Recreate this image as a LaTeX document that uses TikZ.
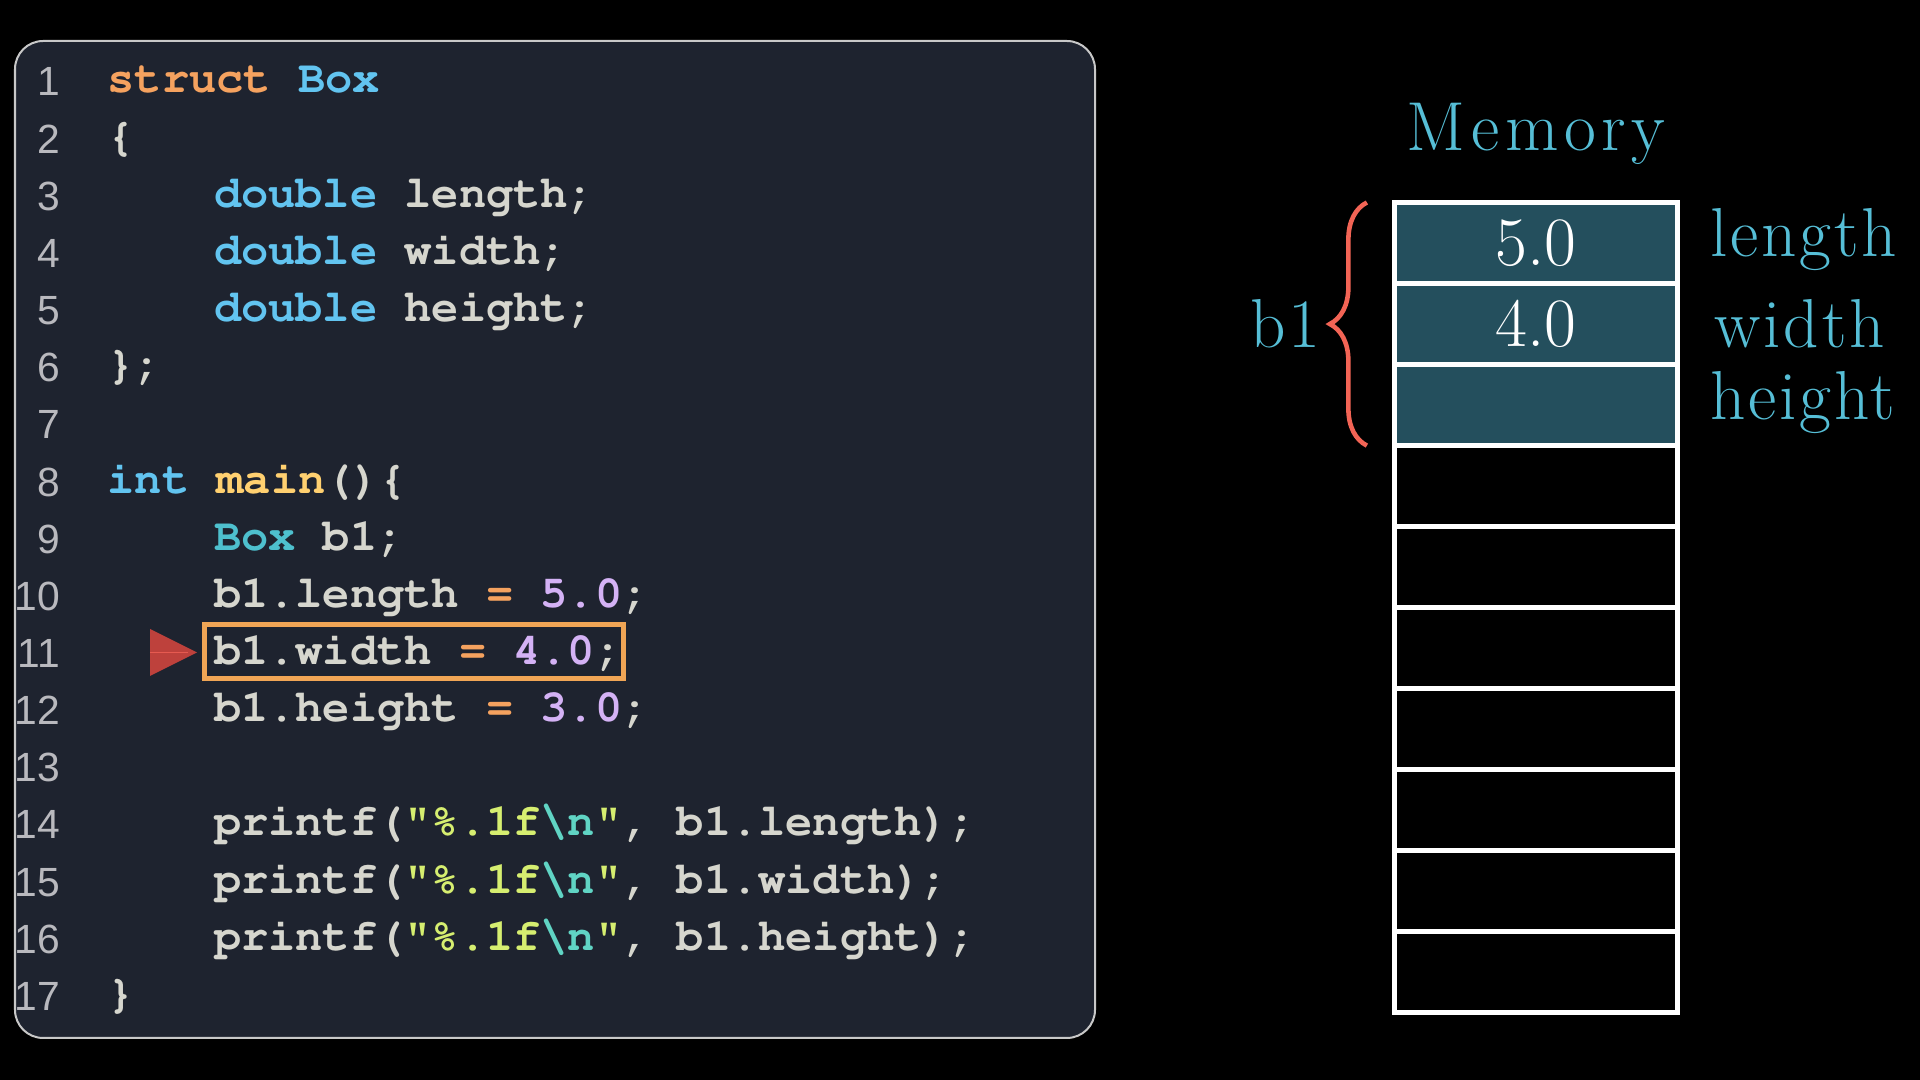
\documentclass[tikz,border=0pt]{standalone}
\usepackage[T1]{fontenc}
\usepackage{fontspec}
\newfontfamily\numfont{Liberation Sans}
\newfontfamily\memfamily{Latin Modern Roman}[LetterSpace=4]
\newfontfamily\titlefamily{Latin Modern Roman}[LetterSpace=8]
\usetikzlibrary{positioning,decorations.pathreplacing}

\definecolor{panelbg}{RGB}{30,35,47}
\definecolor{panelrule}{RGB}{200,200,200}
\definecolor{codetext}{RGB}{214,214,206}
\definecolor{numgray}{RGB}{185,185,190}
\definecolor{kworange}{RGB}{245,162,95}
\definecolor{kwblue}{RGB}{98,196,240}
\definecolor{typeteal}{RGB}{78,192,206}
\definecolor{fnyellow}{RGB}{255,208,112}
\definecolor{numpurple}{RGB}{212,178,245}
\definecolor{strgreen}{RGB}{214,238,112}
\definecolor{escteal}{RGB}{96,212,196}
\definecolor{hlorange}{RGB}{240,165,85}
\definecolor{markred}{RGB}{190,65,60}
\definecolor{marklight}{RGB}{230,90,80}
\definecolor{cellteal}{RGB}{36,79,93}
\definecolor{memteal}{RGB}{86,190,214}
\definecolor{bracered}{RGB}{242,100,85}

\newcommand{\codefont}{\fontencoding{T1}\fontfamily{pcr}\fontseries{b}\fontshape{n}\fontsize{12.9pt}{15pt}\selectfont\frenchspacing}
\newcommand{\memfont}{\memfamily\fontsize{19.7pt}{23pt}\selectfont}
\newcommand{\cstruct}[1]{\textcolor{kworange}{#1}}
\newcommand{\ckey}[1]{\textcolor{kwblue}{#1}}
\newcommand{\ctype}[1]{\textcolor{typeteal}{#1}}
\newcommand{\cfun}[1]{\textcolor{fnyellow}{#1}}
\newcommand{\cop}[1]{\textcolor{kworange}{#1}}
\newcommand{\cnum}[1]{\textcolor{numpurple}{#1}}
\newcommand{\cstr}[1]{\textcolor{strgreen}{#1}}
\newcommand{\cesc}[1]{\textcolor{escteal}{#1}}

\tikzset{codeline/.style={anchor=base west, inner sep=0, text=codetext, font=\codefont}}
\tikzset{lnum/.style={anchor=base east, inner sep=0, text=numgray,
    font=\numfont\fontsize{11.6pt}{13pt}\selectfont}}
\tikzset{memcell/.style={draw=white, line width=1.42pt, minimum width=2.83cm,
    minimum height=0.81cm, inner sep=0, outer sep=0, text=white,
    font=\fontsize{19.7pt}{23pt}\selectfont}}
\tikzset{usedcell/.style={memcell, fill=cellteal}}
\tikzset{memlbl/.style={inner sep=0, text=memteal, font=\memfont}}

\begin{document}
\begin{tikzpicture}[x=0.01cm, y=-0.01cm]
  \fill[black] (0,0) rectangle (1920,1080);

  % code panel
  \draw[fill=panelbg, draw=panelrule, line width=0.57pt, rounded corners=8pt]
  (15,41) rectangle (1095,1038);
  \begin{scope}
    \clip[rounded corners=8pt] (15,41) rectangle (1095,1038);
    \foreach \i in {1,...,17}
      \node[lnum] (n\i) at (61,{96+(\i-1)*57.15}) {\i};
  \end{scope}

  \node[codeline] (l1) at (107,93) {\cstruct{struct} \ckey{Box}};
  \node[codeline] (l2) at (107,150.15) {\{};
  \node[codeline] (l3) at (213.4,207.3) {\ckey{double} length;};
  \node[codeline] (l4) at (213.4,264.45) {\ckey{double} width;};
  \node[codeline] (l5) at (213.4,321.6) {\ckey{double} height;};
  \node[codeline] (l6) at (107,378.75) {\};};
  \node[codeline] (l8) at (107,493.05) {\ckey{int} \cfun{main}()\{};
  \node[codeline] (l9) at (213.4,550.2) {\ctype{Box} b1;};
  \node[codeline] (l10) at (213.4,607.35) {b1.length \cop{=} \cnum{5.0};};
  \node[codeline] (l11) at (213.4,664.5) {b1.width \cop{=} \cnum{4.0};};
  \node[codeline] (l12) at (213.4,721.65) {b1.height \cop{=} \cnum{3.0};};
  \node[codeline] (l14) at (213.4,835.95)
  {printf(\cstr{"\%.1f}\cesc{\textbackslash n}\cstr{"}, b1.length);};
  \node[codeline] (l15) at (213.4,893.1)
  {printf(\cstr{"\%.1f}\cesc{\textbackslash n}\cstr{"}, b1.width);};
  \node[codeline] (l16) at (213.4,950.25)
  {printf(\cstr{"\%.1f}\cesc{\textbackslash n}\cstr{"}, b1.height);};
  \node[codeline] (l17) at (107,1007.4) {\}};

  % current line
  \draw[hlorange, line width=1.42pt] (204.5,624.5) rectangle (623,679);
  \fill[markred] (150,629) -- (197,652.5) -- (150,676) -- cycle;
  \draw[marklight, line width=0.5pt] (150,652.5) -- (188,652.5);

  % memory
  \node[memlbl, anchor=base] (memtitle) at (1536,151)
  {\titlefamily Memory};
  \node[usedcell] (cell1) at (1536,243) {5.0};
  \node[usedcell, below=0pt of cell1] (cell2) {4.0};
  \node[usedcell, below=0pt of cell2] (cell3) {};
  \foreach \i [count=\j from 3] in {4,...,10}
    \node[memcell, below=0pt of cell\j] (cell\i) {};

  \node[memlbl, anchor=base west] (lenlbl) at (1710,257) {length};
  \node[memlbl, anchor=base west] (widlbl) at (1714,348) {width};
  \node[memlbl, anchor=base west] (heilbl) at (1710,420) {height};

  \draw[bracered, line width=1.3pt, decorate, decoration={brace, amplitude=0.37cm}]
  ([xshift=-0.275cm]cell3.south west) -- ([xshift=-0.275cm]cell1.north west);
  \node[memlbl, anchor=base east] (b1lbl) at (1321,348) {b1};

\end{tikzpicture}
\end{document}
